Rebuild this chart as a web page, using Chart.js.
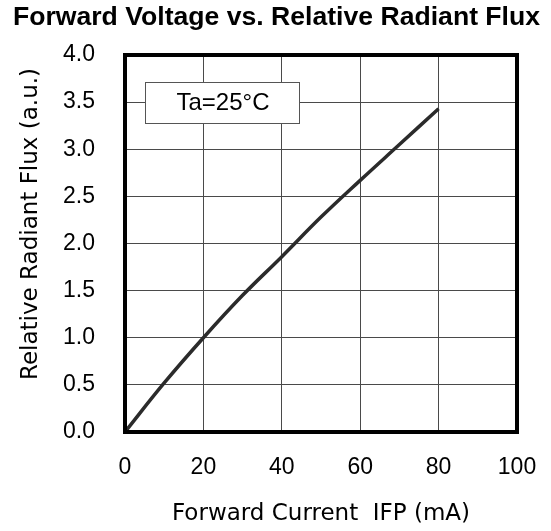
<!DOCTYPE html>
<html>
<head>
<meta charset="utf-8">
<script src="https://cdn.jsdelivr.net/npm/chart.js@4.4.0/dist/chart.umd.min.js"></script>
<style>
  html, body { margin: 0; padding: 0; background: #fff; }
  #wrap { width: 551px; height: 531px; }
</style>
</head>
<body>
<div id="wrap"><canvas id="fluxChart" width="551" height="531"></canvas></div>
<script>
// Forward current (mA) vs relative radiant flux
const currentMA = [0, 10, 20, 30, 40, 50, 60, 70, 80];
const radiantFlux = [0, 0.52, 1.0, 1.45, 1.86, 2.28, 2.67, 3.05, 3.43];

const xTicks = [0, 20, 40, 60, 80, 100];
const yTicks = [0, 0.5, 1.0, 1.5, 2.0, 2.5, 3.0, 3.5, 4.0];

const titleText = 'Forward Voltage vs. Relative Radiant Flux';
const xTitle = 'Forward Current  IFP (mA)';
const yTitle = 'Relative Radiant Flux (a.u.)';
const noteText = 'Ta=25°C';

const INK = '#000';
const GRID = '#4a4a4a';

// title, frame, y-axis title and the condition box are drawn by hand
const extras = {
  id: 'extras',
  afterDatasetsDraw(chart) {
    const { ctx, chartArea: a } = chart;
    // Ta box (upper left, sits over the grid)
    const bx = a.left + 20, by = a.top + 27, bw = 154, bh = 41;
    ctx.save();
    ctx.fillStyle = '#fff';
    ctx.fillRect(bx, by, bw, bh);
    ctx.strokeStyle = '#555';
    ctx.lineWidth = 1;
    ctx.strokeRect(bx + 0.5, by + 0.5, bw, bh);
    ctx.fillStyle = INK;
    ctx.font = '24px "Liberation Sans", Arial, sans-serif';
    ctx.textAlign = 'center';
    ctx.textBaseline = 'middle';
    ctx.fillText(noteText, bx + bw / 2 + 1, by + bh / 2 + 1);
    ctx.restore();
  },
  afterDraw(chart) {
    const { ctx, chartArea: a, width } = chart;
    ctx.save();
    ctx.strokeStyle = INK;
    ctx.lineWidth = 4;
    ctx.strokeRect(a.left, a.top, a.right - a.left, a.bottom - a.top);

    ctx.fillStyle = INK;
    ctx.font = 'bold 26.6px "Liberation Sans", Arial, sans-serif';
    ctx.textAlign = 'center';
    ctx.textBaseline = 'alphabetic';
    ctx.fillText(titleText, width / 2 + 1, 25);

    ctx.translate(31, 224);
    ctx.rotate(-Math.PI / 2);
    ctx.font = '23px "DejaVu Sans", sans-serif';
    ctx.textBaseline = 'middle';
    ctx.fillText(yTitle, 0, 0);
    ctx.restore();
  }
};

new Chart(document.getElementById('fluxChart'), {
  type: 'line',
  data: {
    datasets: [{
      label: 'Relative Radiant Flux',
      data: currentMA.map((x, i) => ({ x, y: radiantFlux[i] })),
      borderColor: '#2b2b2b',
      borderWidth: 3.5,
      pointRadius: 0,
      fill: false,
      tension: 0.4
    }]
  },
  options: {
    responsive: false,
    animation: false,
    layout: { padding: { left: 0, right: 34, top: 55, bottom: 0 } },
    plugins: {
      legend: { display: false },
      tooltip: { enabled: false },
      title: { display: false }
    },
    scales: {
      x: {
        type: 'linear',
        min: 0,
        max: 100,
        afterBuildTicks: s => { s.ticks = xTicks.map(v => ({ value: v })); },
        afterFit: s => { s.height = 99; s.paddingRight = 0; s.paddingLeft = 0; },
        grid: { color: GRID, lineWidth: 1, drawTicks: false },
        border: { display: false },
        ticks: {
          color: INK,
          padding: 22,
          maxRotation: 0,
          font: { family: '"Liberation Sans", Arial, sans-serif', size: 23 }
        },
        title: {
          display: true,
          text: xTitle,
          color: INK,
          font: { family: '"DejaVu Sans", sans-serif', size: 23 },
          padding: { top: 0, bottom: 3 }
        }
      },
      y: {
        min: 0,
        max: 4,
        afterBuildTicks: s => { s.ticks = yTicks.map(v => ({ value: v })); },
        afterFit: s => { s.width = 125; },
        grid: { color: GRID, lineWidth: 1, drawTicks: false },
        border: { display: false },
        ticks: {
          color: INK,
          padding: 30,
          callback: v => v.toFixed(1),
          font: { family: '"Liberation Sans", Arial, sans-serif', size: 23 }
        }
      }
    }
  },
  plugins: [extras]
});
</script>
</body>
</html>
